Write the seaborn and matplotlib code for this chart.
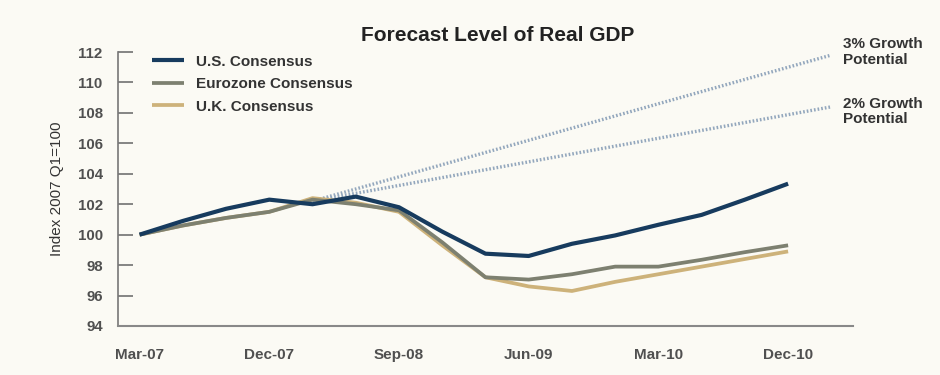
import pandas as pd
import matplotlib
matplotlib.use("Agg")
import matplotlib.pyplot as plt
import seaborn as sns

# ==========================================================
# DATA
# ==========================================================

quarters = ["Mar-07", "Jun-07", "Sep-07", "Dec-07", "Mar-08", "Jun-08",
            "Sep-08", "Dec-08", "Mar-09", "Jun-09", "Sep-09", "Dec-09",
            "Mar-10", "Jun-10", "Sep-10", "Dec-10"]

us_consensus = [100.0, 100.9, 101.7, 102.3, 102.0, 102.5, 101.8, 100.2,
                98.75, 98.6, 99.4, 99.95, 100.65, 101.3, 102.3, 103.35]
ez_consensus = [100.0, 100.6, 101.1, 101.5, 102.3, 102.0, 101.6, 99.5,
                97.2, 97.05, 97.4, 97.9, 97.9, 98.35, 98.85, 99.3]
uk_consensus = [100.0, 100.6, 101.1, 101.5, 102.4, 102.1, 101.5, 99.3,
                97.2, 96.6, 96.3, 96.9, 97.4, 97.9, 98.4, 98.9]

# growth potential lines: start / end points (quarter index, level)
growth_x = [4, 16]
growth_3pct = [102.2, 111.8]
growth_2pct = [102.2, 108.4]

tick_labels = ["Mar-07", "Dec-07", "Sep-08", "Jun-09", "Mar-10", "Dec-10"]
y_ticks = [94, 96, 98, 100, 102, 104, 106, 108, 110, 112]

series = {
    "U.S. Consensus": us_consensus,
    "Eurozone Consensus": ez_consensus,
    "U.K. Consensus": uk_consensus,
}
colors = {
    "U.S. Consensus": "#173b5e",
    "Eurozone Consensus": "#7d8070",
    "U.K. Consensus": "#cdb27a",
}

rows = []
for name, vals in series.items():
    for i, v in enumerate(vals):
        rows.append({"q": i, "quarter": quarters[i], "level": v, "series": name})
df = pd.DataFrame(rows)

# ==========================================================
# PLOT
# ==========================================================

sns.set_style("white")
plt.rcParams["font.family"] = ["Liberation Sans", "DejaVu Sans"]

bg = "#fbfaf4"
fig = plt.figure(figsize=(9.4, 3.75), dpi=100, facecolor=bg)
ax = fig.add_axes([0.1255, 0.1307, 0.7819, 0.7306], facecolor=bg)

# dotted growth lines drawn first
sns.lineplot(x=growth_x, y=growth_3pct, ax=ax, color="#93a7bd",
             linewidth=2.4, linestyle=(0, (0.5, 0.6)), legend=False)
sns.lineplot(x=growth_x, y=growth_2pct, ax=ax, color="#93a7bd",
             linewidth=2.4, linestyle=(0, (0.5, 0.6)), legend=False)

# draw UK, then Eurozone, then US on top
handles = {}
for name in ["U.K. Consensus", "Eurozone Consensus", "U.S. Consensus"]:
    sub = df[df["series"] == name]
    lw = 3.0 if name == "U.S. Consensus" else 2.7
    sns.lineplot(data=sub, x="q", y="level", ax=ax, color=colors[name],
                 linewidth=lw, label=name, solid_capstyle="butt")
    handles[name] = ax.get_lines()[-1]

ax.set_xlim(-0.5, 16.5)
ax.set_ylim(94, 112)
ax.set_yticks(y_ticks)
ax.set_yticklabels([str(t) for t in y_ticks])
ax.set_xticks([quarters.index(t) for t in tick_labels])
ax.set_xticklabels(tick_labels)

for lab in ax.get_xticklabels() + ax.get_yticklabels():
    lab.set_fontweight("bold")
    lab.set_color("#505050")
for lab in ax.get_xticklabels():
    lab.set_fontsize(11)
for lab in ax.get_yticklabels():
    lab.set_fontsize(10.8)

ax.tick_params(axis="y", direction="in", length=11, width=1.2,
               color="#707070", pad=11, left=True)
ax.tick_params(axis="x", length=0, pad=16)

for side in ["top", "right"]:
    ax.spines[side].set_visible(False)
ax.spines["left"].set_color("#777777")
ax.spines["bottom"].set_color("#888888")
ax.spines["left"].set_linewidth(1.2)
ax.spines["bottom"].set_linewidth(1.5)

ax.set_xlabel("")
ax.set_ylabel("Index 2007 Q1=100", fontsize=11, color="#333333", labelpad=10)

fig.text(0.529, 0.905, "Forecast Level of Real GDP", ha="center", va="center",
         fontsize=15, fontweight="bold", color="#222222")

ax.text(16.27, growth_3pct[1] + 0.2, "3% Growth\nPotential", fontsize=11,
        fontweight="bold", color="#333333", va="center", ha="left",
        clip_on=False, linespacing=1.15)
ax.text(16.27, growth_2pct[1] - 0.3, "2% Growth\nPotential", fontsize=11,
        fontweight="bold", color="#333333", va="center", ha="left",
        clip_on=False, linespacing=1.15)

order = ["U.S. Consensus", "Eurozone Consensus", "U.K. Consensus"]
leg = ax.legend([handles[n] for n in order], order,
                loc="upper left", bbox_to_anchor=(0.046, 0.99), frameon=False,
                handlelength=2.1, handletextpad=0.8, labelspacing=0.55,
                borderpad=0, borderaxespad=0, prop={"weight": "bold", "size": 11})
for t in leg.get_texts():
    t.set_color("#333333")

fig.savefig("out.png", dpi=100, facecolor=bg)
